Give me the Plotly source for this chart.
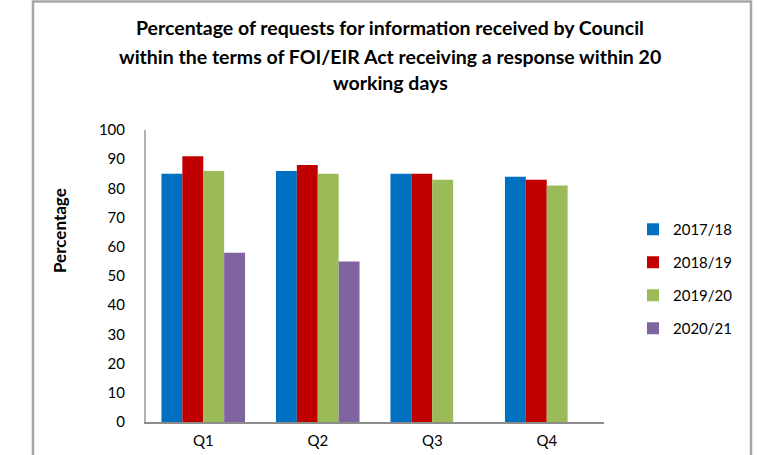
import plotly.graph_objects as go

quarters = ["Q1", "Q2", "Q3", "Q4"]
series_names = ["2017/18", "2018/19", "2019/20", "2020/21"]
v_2017_18 = [85, 86, 85, 84]
v_2018_19 = [91, 88, 85, 83]
v_2019_20 = [86, 85, 83, 81]
v_2020_21 = [58, 55, None, None]
colors = ["#0070C0", "#C00000", "#9BBB59", "#8064A2"]
title_lines = [
    "Percentage of requests for information received by Council",
    "within the terms of FOI/EIR Act receiving a response within 20",
    "working days",
]
y_ticks = list(range(0, 101, 10))

FONT = "Lato, Calibri, Carlito, sans-serif"
W, H = 758, 455
L, R, T, B = 146, 154, 130, 33
PW, PH = W - L - R, H - T - B

def px(x):
    return (x - L) / PW

def py(y):
    return (H - B - y) / PH

fig = go.Figure()
for name, vals, col in zip(series_names, [v_2017_18, v_2018_19, v_2019_20, v_2020_21], colors):
    fig.add_trace(go.Bar(x=quarters, y=vals, name=name, marker=dict(color=col, line=dict(width=0)),
                         legendgroup=name))

fig.update_layout(
    width=W, height=H,
    margin=dict(l=L, r=R, t=T, b=B, autoexpand=False),
    paper_bgcolor="white", plot_bgcolor="white",
    font=dict(family=FONT, size=15, color="#000000"),
    barmode="group", bargap=0.27, bargroupgap=0,
    showlegend=True,
    legend=dict(x=px(633), y=py(213), xanchor="left", yanchor="top",
                font=dict(size=15), tracegroupgap=10.5, itemwidth=30,
                bgcolor="rgba(0,0,0,0)"),
    xaxis=dict(showline=True, linecolor="#8c8c8c", linewidth=2, ticks="",
               ticklabelstandoff=4, tickfont=dict(size=15), showgrid=False),
    yaxis=dict(range=[0, 100], tickvals=y_ticks, showline=True, linecolor="#b3b3b3",
               linewidth=2, ticks="", ticklabelstandoff=16, tickfont=dict(size=15),
               showgrid=False, zeroline=False),
)

ys = [28, 56, 83]
for line, yy in zip(title_lines, ys):
    fig.add_annotation(text="<b>%s</b>" % line, x=px(390), y=py(yy), xref="paper", yref="paper",
                       xanchor="center", yanchor="middle", showarrow=False,
                       font=dict(size=19.5, family=FONT))

fig.add_annotation(text="<b>Percentage</b>", x=px(59), y=py(231), xref="paper", yref="paper",
                   xanchor="center", yanchor="middle", textangle=-90, showarrow=False,
                   font=dict(size=17, family=FONT))

fig.add_shape(type="path", xref="paper", yref="paper",
              path="M %f %f L %f %f L %f %f L %f %f" % (px(33), py(470), px(33), py(1.5),
                                                      px(751), py(1.5), px(751), py(470)),
              line=dict(color="#a6a6a6", width=2.5), layer="above")

fig.write_html("out.html", config={"displayModeBar": False},
               post_script="document.body.style.margin='0';document.body.style.overflow='hidden';")
